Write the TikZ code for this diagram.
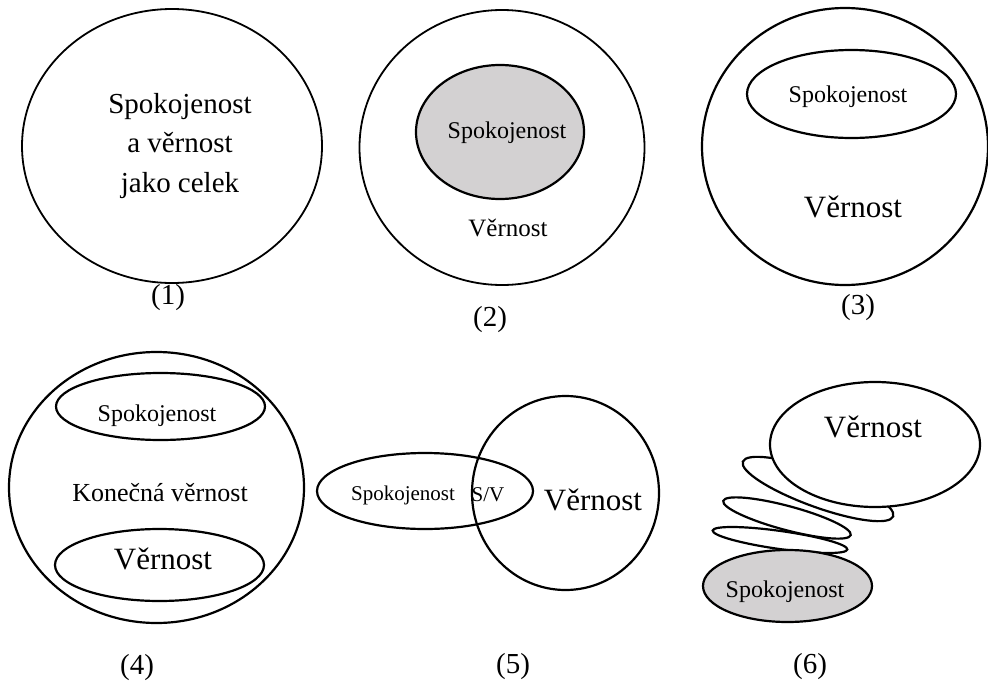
\documentclass[tikz,border=0pt]{standalone}
\usepackage{fontspec}
\setmainfont{Liberation Serif}
\usetikzlibrary{shapes.geometric}
\definecolor{shade}{RGB}{211,209,210}
\tikzset{
  ring/.style={ellipse, draw, line width=2.2pt, inner sep=0pt, outer sep=0pt},
  thinring/.style={ring, line width=1.8pt},
  txt/.style={inner sep=0pt, align=center},
  fbig/.style={font=\fontsize{29}{39.5}\selectfont},
  fmid/.style={font=\fontsize{24}{29}\selectfont},
  fver/.style={font=\fontsize{31}{37}\selectfont},
  fkon/.style={font=\fontsize{26}{31}\selectfont},
  fsmall/.style={font=\fontsize{21}{25}\selectfont},
  flab/.style={font=\fontsize{29}{35}\selectfont},
}
\begin{document}
\begin{tikzpicture}[x=1pt,y=-1pt]
\useasboundingbox (0,0) rectangle (988,688);
% Panel 1
\node[thinring, minimum width=300, minimum height=274] (c1) at (172,146) {};
\node[txt,fbig] (t1) at (180,146) {Spokojenost\\a věrnost\\jako celek};
\node[txt,flab] (l1) at (168,298) {(1)};
% Panel 2
\node[thinring, minimum width=285, minimum height=275] (c2) at (502,147.5) {};
\node[ring, fill=shade, minimum width=168, minimum height=134] (s2) at (500,132) {};
\node[txt,fmid] (ts2) at (507,133) {Spokojenost};
\node[txt,font=\fontsize{25}{30}\selectfont] (tv2) at (508,228) {Věrnost};
\node[txt,flab] (l2) at (490,320) {(2)};
% Panel 3
\node[ring, minimum width=286, minimum height=277] (c3) at (845,146.5) {};
\node[ring, minimum width=209, minimum height=88] (s3) at (851.5,94) {};
\node[txt,fmid] (ts3) at (848,97) {Spokojenost};
\node[txt,fver] (tv3) at (853,207) {Věrnost};
\node[txt,flab] (l3) at (858,308) {(3)};
% Panel 4
\node[ring, minimum width=295, minimum height=271] (c4) at (156.5,487.5) {};
\node[ring, minimum width=209, minimum height=67] (s4) at (160.5,406.5) {};
\node[txt,fmid] (ts4) at (157,416) {Spokojenost};
\node[txt,fkon] (tk4) at (160,493) {Konečná věrnost};
\node[ring, minimum width=209, minimum height=72] (v4) at (159.5,565) {};
\node[txt,fver] (tv4) at (163,559) {Věrnost};
\node[txt,flab] (l4) at (137,668) {(4)};
% Panel 5
\node[ring, minimum width=216, minimum height=76] (s5) at (425,491) {};
\node[ring, minimum width=187, minimum height=194] (v5) at (565.5,493) {};
\node[txt,fsmall] (ts5) at (403,495) {Spokojenost};
\node[txt,fsmall] (tsv5) at (488,495) {S/V};
\node[txt,fver] (tv5) at (593,500) {Věrnost};
\node[txt,flab] (l5) at (513,667) {(5)};
% Panel 6
\node[ring, minimum width=136, minimum height=18, rotate=-8] (e3) at (780,540) {};
\node[ring, minimum width=132, minimum height=24, rotate=-15] (e2) at (787,518) {};
\node[ring, minimum width=160, minimum height=36, rotate=-20] (e1) at (818,489) {};
\node[ring, fill=shade, minimum width=169, minimum height=72] (s6) at (787.5,586) {};
\node[txt,fmid] (ts6) at (785,592) {Spokojenost};
\node[ring, fill=white, minimum width=210, minimum height=125] (v6) at (875,444.5) {};
\node[txt,fver] (tv6) at (873,427) {Věrnost};
\node[txt,flab] (l6) at (810,667) {(6)};
\end{tikzpicture}
\end{document}
